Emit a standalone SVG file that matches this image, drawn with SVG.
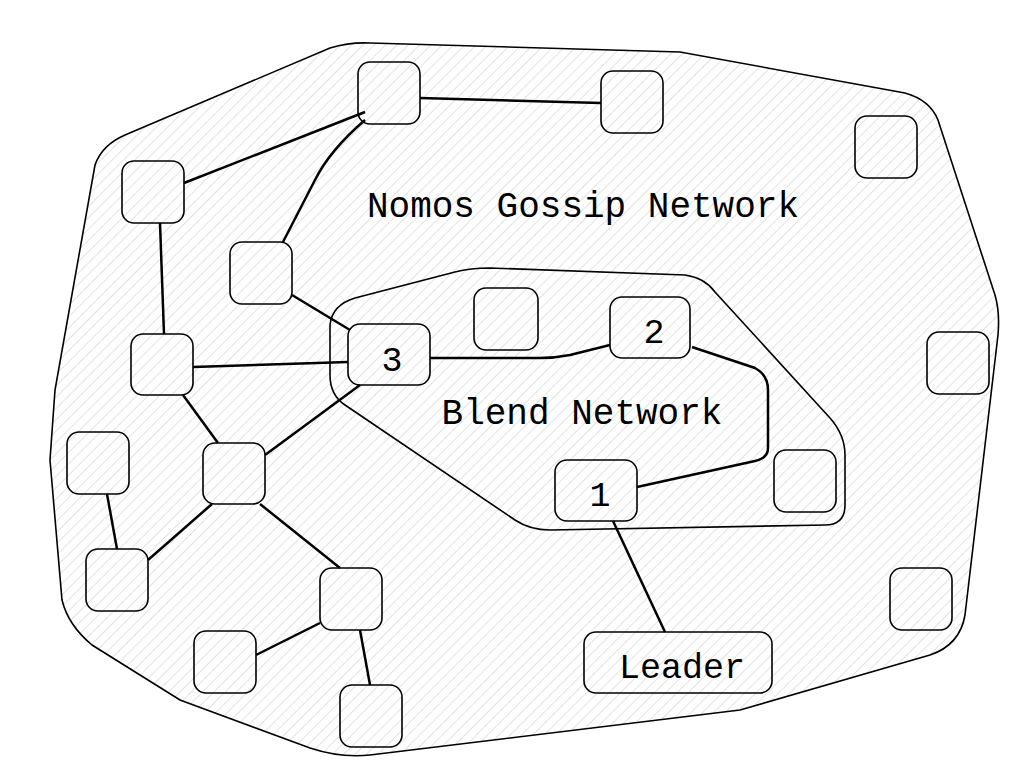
<svg xmlns="http://www.w3.org/2000/svg" width="1024" height="779" viewBox="0 0 1024 779">
<defs>
<pattern id="h" patternUnits="userSpaceOnUse" width="8" height="8" patternTransform="rotate(45)">
<rect width="8" height="8" fill="#fff"/><line x1="0" y1="0" x2="0" y2="8" stroke="#cfcfcf" stroke-width="1.2"/>
</pattern>
<style>
.n{fill:none;stroke:#000;stroke-width:1.6}
.e{fill:none;stroke:#000;stroke-width:2.5}
.t{font-family:"Liberation Mono",monospace;font-size:35px;fill:#000}
</style>
</defs>
<rect width="1024" height="779" fill="#fff"/>
<path d="M125,135 L330,48 Q350,42 370,43 L680,52 L905,93 Q930,100 938,120 L995,295 Q1000,312 998,335 L965,615 Q960,645 930,655 L740,710 L370,755 Q340,758 310,748 L180,700 L92,645 Q68,625 62,600 L50,460 L55,390 L95,165 Q102,145 125,135 Z" fill="url(#h)" stroke="#000" stroke-width="1.6"/>
<path d="M330,325 Q332,305 355,298 L455,272 Q470,268 490,268 L685,275 Q705,278 715,292 L830,418 Q845,435 845,455 L845,505 Q845,525 825,525 L550,530 Q530,530 515,520 L345,405 Q330,395 330,375 Z" fill="none" stroke="#000" stroke-width="1.6"/>
<g id="edges">
<path class="e" d="M420,98 L601,103"/>
<path class="e" d="M365,112 L184,183"/>
<path class="e" d="M365,120 Q330,150 315,180 L283,242"/>
<path class="e" d="M160,223 L164,334"/>
<path class="e" d="M292,295 L350,330"/>
<path class="e" d="M193,367 L348,362"/>
<path class="e" d="M183,395 L218,443"/>
<path class="e" d="M360,385 L265,455"/>
<path class="e" d="M107,494 L117,549"/>
<path class="e" d="M212,504 L148,560"/>
<path class="e" d="M260,504 L340,568"/>
<path class="e" d="M320,623 L256,655"/>
<path class="e" d="M360,630 L370,685"/>
<path class="e" d="M430,358 L540,358 Q555,358 570,355 L610,345"/>
<path class="e" d="M692,347 L755,368 Q768,375 768,390 L768,448 Q768,458 755,461 L637,487"/>
<path class="e" d="M613,521 L665,632"/>
</g>
<g id="nA"><rect class="n" x="358" y="62" width="62" height="62" rx="12"/></g>
<g id="nB"><rect class="n" x="601" y="71" width="62" height="62" rx="12"/></g>
<g id="nC"><rect class="n" x="855" y="116" width="62" height="62" rx="12"/></g>
<g id="nD"><rect class="n" x="122" y="161" width="62" height="62" rx="12"/></g>
<g id="nE"><rect class="n" x="230" y="242" width="62" height="62" rx="12"/></g>
<g id="nF"><rect class="n" x="474" y="288" width="64" height="62" rx="12"/></g>
<g id="n2"><rect class="n" x="610" y="297" width="80" height="61" rx="12"/><text class="t" x="654" y="343" text-anchor="middle">2</text></g>
<g id="n3"><rect class="n" x="348" y="324" width="82" height="61" rx="12"/><text class="t" x="392" y="371" text-anchor="middle">3</text></g>
<g id="nG"><rect class="n" x="131" y="334" width="62" height="61" rx="12"/></g>
<g id="nH"><rect class="n" x="927" y="332" width="62" height="62" rx="12"/></g>
<g id="nI"><rect class="n" x="67" y="432" width="62" height="62" rx="12"/></g>
<g id="nJ"><rect class="n" x="203" y="443" width="62" height="61" rx="12"/></g>
<g id="n1"><rect class="n" x="555" y="460" width="82" height="61" rx="12"/><text class="t" x="600" y="506" text-anchor="middle">1</text></g>
<g id="nK"><rect class="n" x="774" y="450" width="62" height="62" rx="12"/></g>
<g id="nL"><rect class="n" x="86" y="549" width="62" height="62" rx="12"/></g>
<g id="nM"><rect class="n" x="320" y="568" width="62" height="62" rx="12"/></g>
<g id="nN"><rect class="n" x="890" y="568" width="62" height="62" rx="12"/></g>
<g id="nO"><rect class="n" x="194" y="631" width="62" height="62" rx="12"/></g>
<g id="nP"><rect class="n" x="340" y="685" width="62" height="62" rx="12"/></g>
<g id="leader"><rect class="n" x="584" y="632" width="188" height="61" rx="12"/><text class="t" x="682" y="678" text-anchor="middle">Leader</text></g>
<text class="t" x="583" y="217" text-anchor="middle" style="font-size:36px">Nomos Gossip Network</text>
<text class="t" x="582" y="424" text-anchor="middle" style="font-size:36px">Blend Network</text>
</svg>
